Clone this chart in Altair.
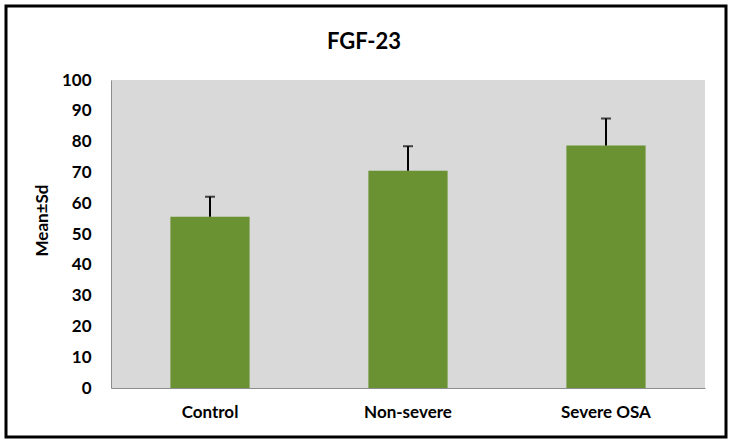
import altair as alt
import pandas as pd

groups = ["Control", "Non-severe", "Severe OSA"]
means = [55.6, 70.5, 78.7]
sds = [6.5, 8.0, 8.8]
y_ticks = [0, 10, 20, 30, 40, 50, 60, 70, 80, 90, 100]
chart_title = "FGF-23"

df = pd.DataFrame({"group": groups, "mean": means, "sd": sds})
df["upper"] = df["mean"] + df["sd"]

FONT = "Lato"

x_axis = alt.Axis(
    labelAngle=0, labelFont=FONT, labelFontSize=17, labelFontWeight="bold",
    labelColor="#000000", ticks=False, labelPadding=16, domainColor="#8c8c8c",
    domainWidth=1,
)
x_scale = alt.Scale(paddingInner=0.6, paddingOuter=0.3)
y_axis = alt.Axis(
    values=y_ticks, grid=False, ticks=False, labelPadding=20,
    labelOverlap=False, tickCount=11,
    labelFont=FONT, labelFontSize=17, labelFontWeight="bold", labelColor="#000000",
    domainColor="#8c8c8c", domainWidth=1,
    title="Mean±Sd", titleFont=FONT, titleFontSize=17, titleFontWeight="bold",
    titleColor="#000000", titleX=-60, titleY=140,
)
yscale = alt.Scale(domain=[0, 100], nice=False)

X = alt.X("group:N", sort=groups, title=None, scale=x_scale, axis=x_axis)

bars = alt.Chart(df).mark_bar(color="#6a9232").encode(
    x=X, y=alt.Y("mean:Q", scale=yscale, axis=y_axis)
)
rules = alt.Chart(df).mark_rule(color="#000000", strokeWidth=2).encode(
    x=X, y=alt.Y("mean:Q", scale=yscale, axis=y_axis), y2="upper:Q"
)
caps = alt.Chart(df).mark_tick(color="#000000", thickness=2, size=10, orient="horizontal").encode(
    x=X, y=alt.Y("upper:Q", scale=yscale, axis=y_axis)
)
border = alt.Chart(pd.DataFrame({"a": [0]})).mark_rect(
    fill=None, stroke="#000000", strokeWidth=3, clip=False
).encode(
    x=alt.value(-105), x2=alt.value(615), y=alt.value(-74), y2=alt.value(357)
)
title = alt.Chart(pd.DataFrame({"t": [chart_title]})).mark_text(
    font=FONT, fontSize=22, fontWeight="bold", color="#000000",
    align="center", baseline="middle", clip=False
).encode(
    text="t:N", x=alt.value(253), y=alt.value(-38)
)

chart = alt.layer(bars, rules, caps, border, title).properties(
    width=594, height=308,
    padding={"left": 111, "top": 80, "right": 29, "bottom": 57},
    autosize=alt.AutoSizeParams(type="none"),
).configure(
    background="#ffffff"
).configure_view(
    fill="#d9d9d9", stroke=None
)

chart.save("out.html", embed_options={"renderer": "svg", "actions": False})
